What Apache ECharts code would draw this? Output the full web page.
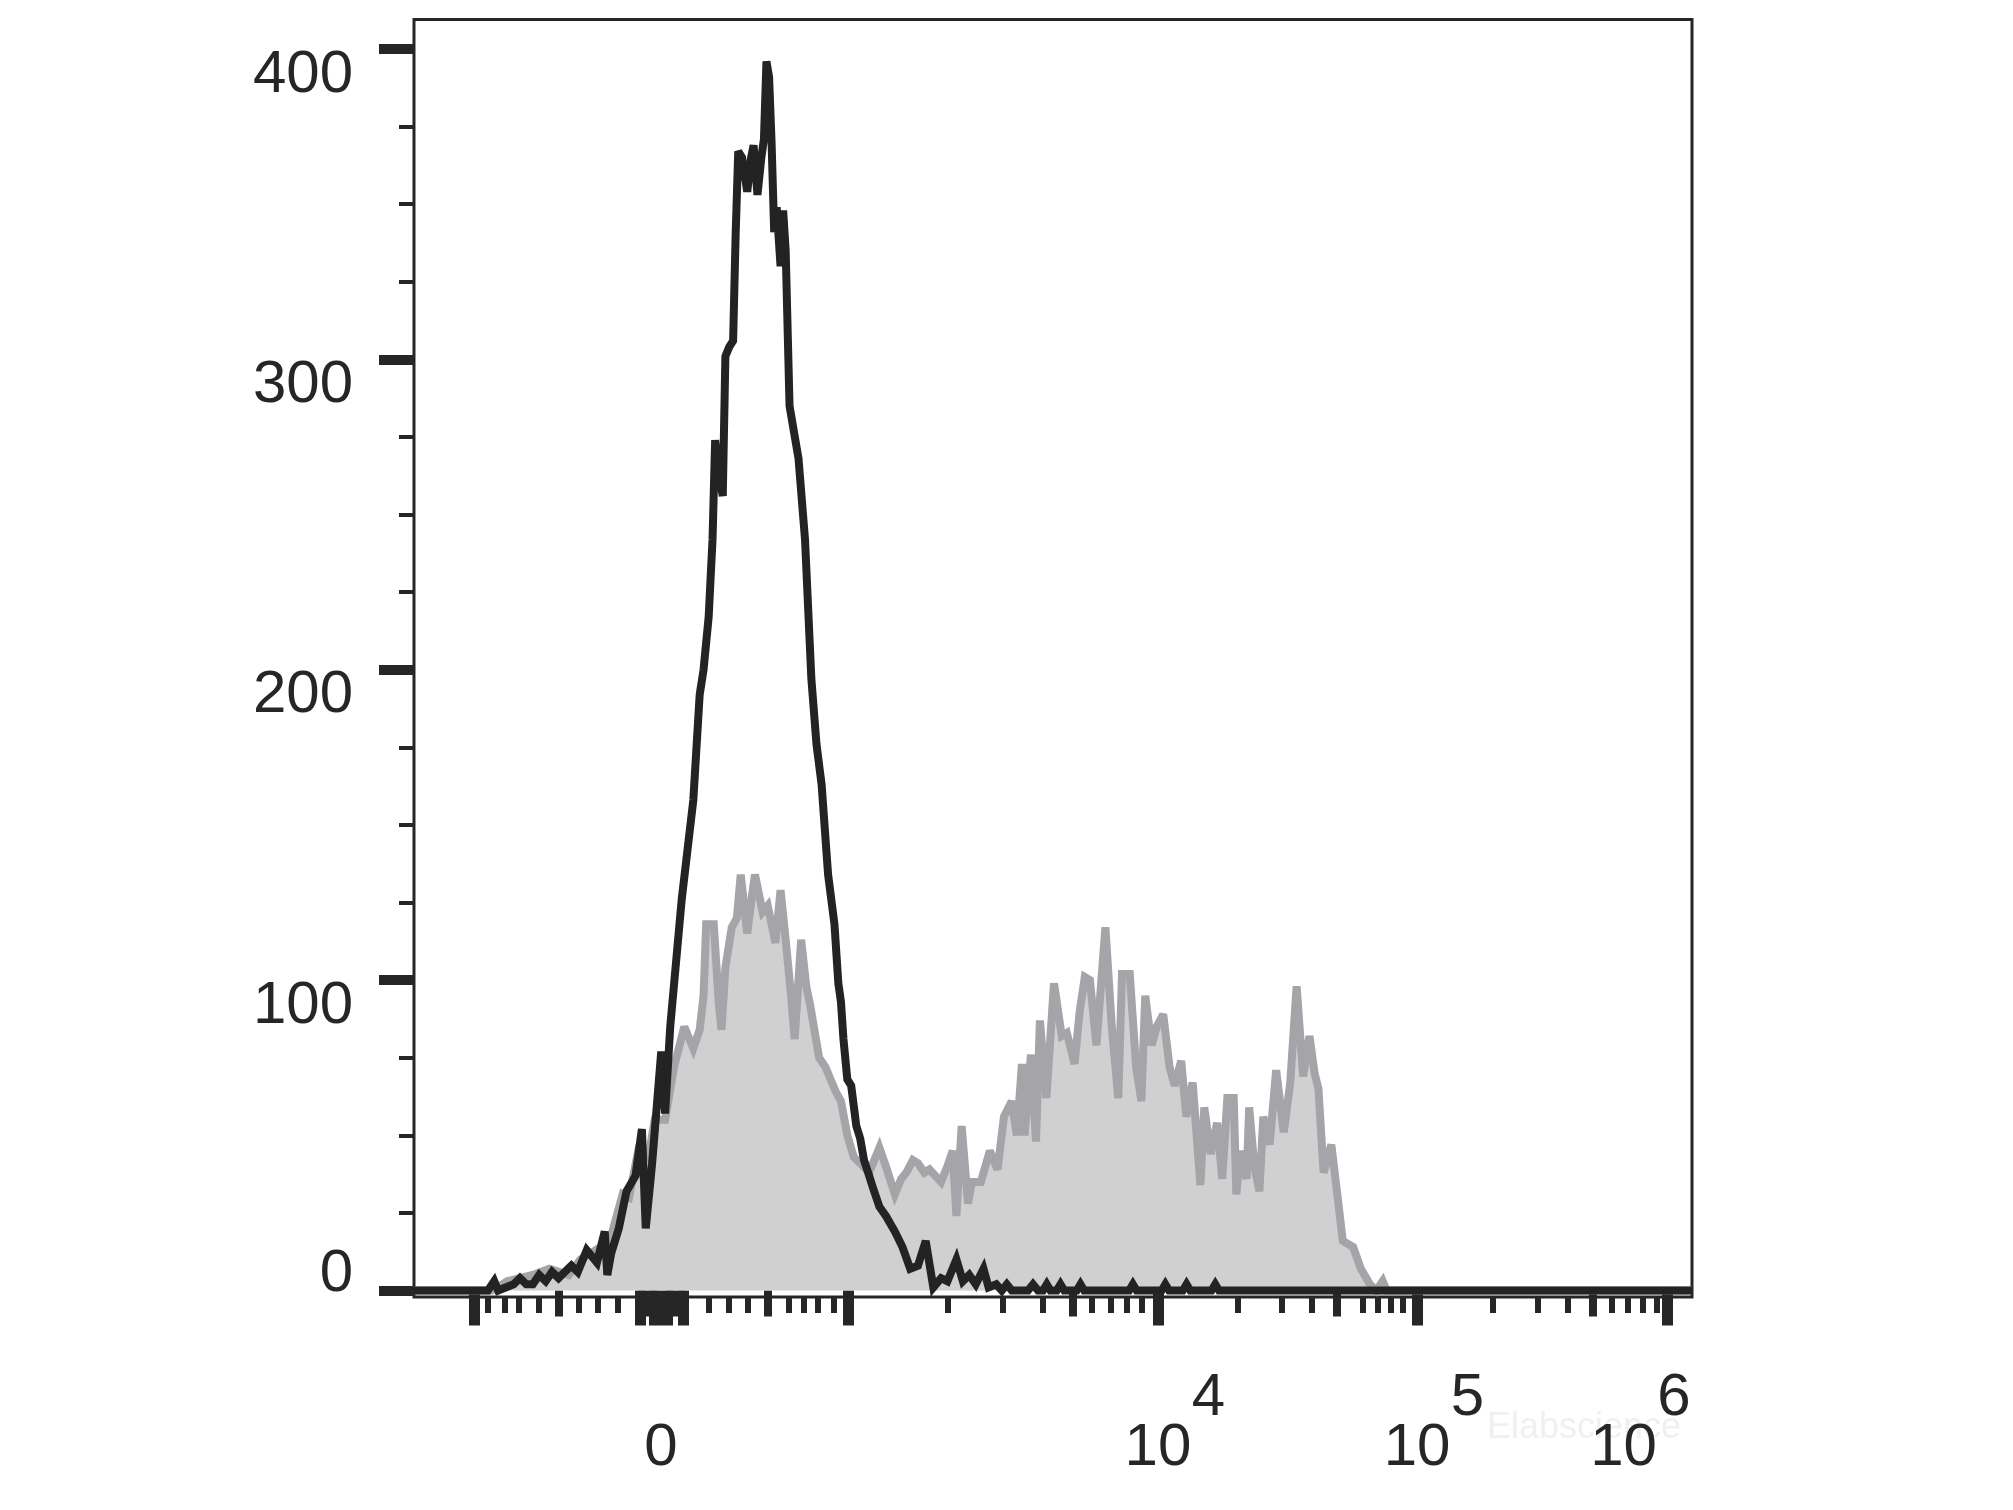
<!DOCTYPE html>
<html><head><meta charset="utf-8">
<script src="https://cdn.jsdelivr.net/npm/echarts@6/dist/echarts.min.js"></script>
<style>html,body{margin:0;padding:0;background:#fff}#c{width:2013px;height:1510px}</style>
</head><body><div id="c"></div>
<script>
// Biexponential display scale: fluorescence value -> display channel (0..1024 across the plot)
const scaleValues = [-1000,-900,-800,-700,-600,-500,-400,-300,-200,-100,0,100,200,300,400,500,600,700,800,900,1000,2000,3000,4000,5000,6000,7000,8000,9000,1e4,2e4,3e4,4e4,5e4,6e4,7e4,8e4,9e4,1e5,2e5,3e5,4e5,5e5,6e5,7e5,8e5,9e5,1e6];
const scaleChannels = [48.1,59.3,72.9,84.1,100.2,116.2,132.2,147.4,163.5,181.1,197.9,215.5,236.4,252.4,267.6,283.6,300.5,312.5,323.7,336.5,347.7,427.9,471.9,504.0,528.0,543.2,558.5,571.3,583.3,596.1,660.2,695.5,719.5,739.6,760.4,772.4,782.8,792.4,803.7,864.5,900.6,924.6,944.7,959.9,972.7,984.7,995.9,1004.0];

// x-axis ticks (fluorescence values)
const xLongTicks = [-1000,-100,-30,-20,-10,0,10,20,30,100,1000,1e4,1e5,1e6];
const xMediumTicks = [-500,-90,-80,-70,-60,-50,-40,40,50,60,70,80,90,500,5000,5e4,5e5];
const xShortTicks = [-900,-800,-700,-600,-400,-300,-200,200,300,400,600,700,800,900,2000,3000,4000,6000,7000,8000,9000,2e4,3e4,4e4,6e4,7e4,8e4,9e4,2e5,3e5,4e5,6e5,7e5,8e5,9e5];
const xLabelValues = [0,1e4,1e5,1e6];
const xLabelExponents = ['', '4', '5', '6'];

// y-axis ticks (counts)
const yMajorTicks = [0,100,200,300,400];
const yMinorTicks = [25,50,75,125,150,175,225,250,275,325,350,375];

// Histogram: unstained control (black line) — channel, count
const blackChannels = [0,59.2,64.3,67.4,79.8,84.9,90.0,95.2,100.3,105.5,110.6,115.8,120.9,126.1,131.2,138.4,146.6,152.8,154.9,158.0,164.1,170.3,177.5,182.6,185.7,190.8,198.1,201.2,205.3,214.5,223.8,228.9,232.0,236.1,239.2,241.3,244.3,247.4,249.5,252.6,255.7,257.7,259.8,262.9,267.0,270.1,272.1,275.2,278.3,280.4,282.4,284.5,286.5,288.6,290.6,293.7,295.8,297.8,300.9,308.1,313.3,318.4,322.5,326.6,331.8,336.9,340.0,342.1,344.1,347.2,350.3,354.4,357.5,360.6,364.7,367.8,372.9,378.1,385.3,391.4,397.6,403.8,410.0,416.1,422.3,427.4,434.6,439.8,444.9,450.1,456.3,460.4,466.5,471,475,479,492,496,500,504,507,510,515,518,521,531,534,537,573,576,579,599,602,605,616,619,622,639,642,645,1024];
const blackCounts = [0,0,3,0,2,4,2,2,5,3,6,4,6,8,6,13,9,19,5,12,20,32,37,52,20,41,77,57,85,126,158,192,200,217,242,274,263,256,301,304,306,340,367,365,354,365,369,353,365,371,396,391,370,341,349,330,348,335,285,268,242,197,176,163,134,118,99,93,81,68,66,53,49,42,37,33,27,24,19,14,7,8,16,1,4,3,10,3,5,2,7,1,2,0,2,0,0,2,0,0,2,0,0,2,0,0,2,0,0,2,0,0,2,0,0,2,0,0,2,0,0];

// Histogram: stained sample (grey filled) — channel, count
const greyChannels = [0,62.3,67.4,74.6,84.9,95.2,108.5,124.0,133.3,145.6,156.9,167.2,172.3,179.6,187.8,192.9,201.2,208.3,216.6,223.8,228.9,232.0,234.1,240.2,244.3,246.4,249.5,254.6,258.7,261.8,267.0,270.1,273.2,279.3,283.4,286.5,289.6,293.7,297.8,301.9,305.0,310.2,314.3,317.4,324.6,329.7,333.8,338.0,342.1,347.2,352.4,357.5,364.7,372.9,378.1,385.3,390.4,394.5,399.7,403.8,408.9,413.0,422.3,427.4,431.6,434.6,438.8,443.9,447.0,454.2,461.4,467.6,472.7,478.9,483.0,487.1,489.2,494.3,498.4,501.5,506.7,512.8,519.0,523.1,529.3,533.4,537.5,541.6,546.8,554.0,559.1,564.3,567.3,573.5,578.6,582.8,585.9,591.0,595.1,600.3,605.4,609.5,614.7,618.8,623.9,630.1,633.2,638.3,643.5,647.6,651.7,656.8,658.9,662.0,667.1,669.2,673.3,677.4,680.5,685.6,690.8,696.9,702.1,707.2,712.4,717.5,721.6,724.7,728.8,735.0,740.1,744.2,752.5,758.7,765.9,771.1,776.2,779.3,1024];
const greyCounts = [0,0,1,3,4,5,7,5,10,13,16,31,30,45,43,55,55,72,85,78,84,95,118,118,92,84,104,117,120,134,115,125,134,122,124,118,112,129,113,96,81,113,98,92,75,72,68,64,61,50,43,41,38,46,40,31,36,38,42,41,38,39,35,40,45,24,53,28,35,35,45,39,56,61,50,73,50,76,48,87,62,99,82,83,73,90,101,100,79,117,85,62,102,102,72,61,95,79,85,89,72,66,74,56,67,34,59,44,54,36,62,62,31,45,36,59,40,32,56,47,71,51,67,98,69,82,70,65,38,47,30,16,14,7,2,0,3,0,0];

function toChannel(v) {
  for (let i = 0; i < scaleValues.length - 1; i++) {
    if (v >= scaleValues[i] && v <= scaleValues[i + 1]) {
      const t = (v - scaleValues[i]) / (scaleValues[i + 1] - scaleValues[i]);
      return scaleChannels[i] + t * (scaleChannels[i + 1] - scaleChannels[i]);
    }
  }
  return v < scaleValues[0] ? scaleChannels[0] : scaleChannels[scaleChannels.length - 1];
}
const zip = (a, b) => a.map((x, i) => [x, b[i]]);

const FONT = '"Liberation Sans", Arial, Helvetica, sans-serif';
const INK = '#262626';
const X_MIN = 0, X_MAX = 1024, Y_MIN = -2.09, Y_MAX = 409.5;

const xLabelChannels = xLabelValues.map(toChannel);
function xLabelFormatter(ch) {
  let best = 0;
  xLabelChannels.forEach((c, i) => { if (Math.abs(c - ch) < Math.abs(xLabelChannels[best] - ch)) best = i; });
  const v = xLabelValues[best];
  const e = xLabelExponents[best];
  if (!e) return '{s| }\n{z|' + v + '}';
  if (e === '6') return '{s| }{p|' + e + '}{r2| }\n{b|10}{r3| }';
  return '{l| }{s| }{p|' + e + '}\n{l2| }{b|10}{r| }';
}

const L1 = 43, L2 = 57;
function tickAxis(values, len, width, withLabels) {
  const ax = {
    type: 'value', gridIndex: 0, position: 'bottom', min: X_MIN, max: X_MAX,
    axisLine: { show: false }, splitLine: { show: false },
    axisTick: { show: true, customValues: values.map(toChannel), length: len, lineStyle: { color: INK, width: width } },
    axisLabel: { show: false }
  };
  if (withLabels) {
    ax.axisLabel = {
      show: true, customValues: xLabelChannels, margin: 80, color: INK, fontFamily: FONT, fontSize: 60,
      formatter: xLabelFormatter,
      rich: {
        s: { width: 67, lineHeight: L1, fontSize: 60, fontFamily: FONT },
        p: { width: 34, lineHeight: L1, fontSize: 60, fontFamily: FONT, color: INK },
        l: { width: 34, lineHeight: L1, fontSize: 60 },
        l2: { width: 34, lineHeight: L2, fontSize: 60 },
        r: { width: 34, lineHeight: L2, fontSize: 60 },
        r2: { width: 53, lineHeight: L1, fontSize: 60 },
        r3: { width: 87, lineHeight: L2, fontSize: 60 },
        b: { width: 67, lineHeight: L2, fontSize: 60, fontFamily: FONT, color: INK },
        z: { lineHeight: L2, fontSize: 60, fontFamily: FONT, color: INK }
      }
    };
  }
  return ax;
}

const chart = echarts.init(document.getElementById('c'), null, { renderer: 'canvas' });
chart.setOption({
  animation: false,
  backgroundColor: '#ffffff',
  grid: { left: 414, right: 321, top: 19.5, bottom: 213, show: true, borderColor: INK, borderWidth: 3, backgroundColor: 'transparent', outerBoundsMode: 'none' },
  xAxis: [
    tickAxis(xLongTicks, 35, 11, true),
    tickAxis(xMediumTicks, 26, 8, false),
    tickAxis(xShortTicks, 16, 6, false)
  ],
  yAxis: [
    {
      type: 'value', gridIndex: 0, position: 'left', min: Y_MIN, max: Y_MAX,
      axisLine: { show: false }, splitLine: { show: false },
      axisTick: { show: true, customValues: yMajorTicks, length: 35, lineStyle: { color: INK, width: 10 } },
      axisLabel: {
        show: true, customValues: yMajorTicks, margin: 61, color: INK, fontFamily: FONT, fontSize: 60,
        formatter: v => (v === 0 ? '{t|0}\n{h| }' : '{g| }\n{t|' + v + '}'),
        rich: {
          t: { fontSize: 60, lineHeight: 60, fontFamily: FONT, color: INK },
          g: { fontSize: 20, lineHeight: 52 },
          h: { fontSize: 20, lineHeight: 32 }
        }
      }
    },
    {
      type: 'value', gridIndex: 0, position: 'left', min: Y_MIN, max: Y_MAX,
      axisLine: { show: false }, splitLine: { show: false },
      axisTick: { show: true, customValues: yMinorTicks, length: 15, lineStyle: { color: INK, width: 4 } },
      axisLabel: { show: false }
    }
  ],
  graphic: [{
    type: 'text', left: 1487, top: 1410, z: -10, silent: true,
    style: { text: 'Elabscience', fill: '#f0f0f0', font: '36px ' + FONT }
  }],
  series: [
    {
      name: 'stained', type: 'line', xAxisIndex: 0, yAxisIndex: 0, data: zip(greyChannels, greyCounts),
      symbol: 'none', smooth: false, z: 2,
      lineStyle: { color: '#a4a4a9', width: 8, join: 'miter', miterLimit: 3 },
      areaStyle: { color: '#d0d0d0', opacity: 1 }
    },
    {
      name: 'control', type: 'line', xAxisIndex: 0, yAxisIndex: 0, data: zip(blackChannels, blackCounts),
      symbol: 'none', smooth: false, z: 3,
      lineStyle: { color: '#232323', width: 8, join: 'miter', miterLimit: 3 }
    }
  ]
});
</script>
</body></html>
